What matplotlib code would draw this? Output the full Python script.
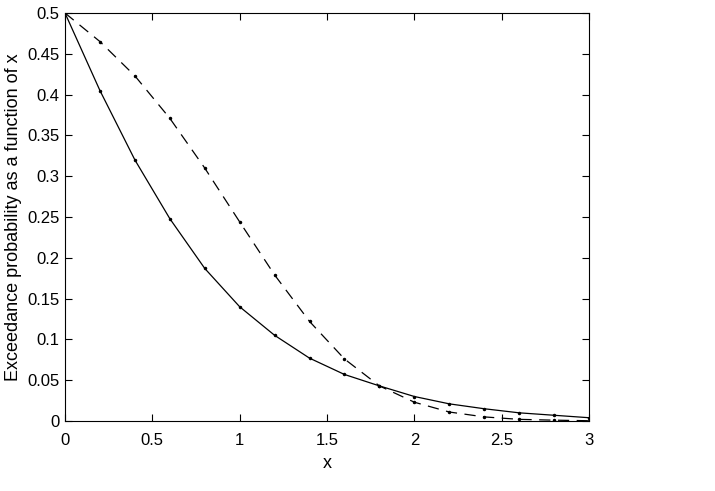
import numpy as np
import matplotlib
matplotlib.use('Agg')
import matplotlib.pyplot as plt

plt.rcParams['font.family'] = ['Liberation Sans', 'DejaVu Sans']

# data
x = [0, 0.2, 0.4, 0.6, 0.8, 1.0, 1.2, 1.4, 1.6, 1.8, 2.0, 2.2, 2.4, 2.6, 2.8, 3.0]
p_solid = [0.5, 0.405, 0.320, 0.248, 0.187, 0.140, 0.105, 0.077, 0.057, 0.043,
           0.030, 0.021, 0.015, 0.010, 0.007, 0.004]
p_dashed = [0.5, 0.465, 0.423, 0.371, 0.310, 0.244, 0.179, 0.122, 0.076, 0.043,
            0.023, 0.011, 0.005, 0.002, 0.001, 0.0003]

fig = plt.figure(figsize=(7.15, 4.91), dpi=100)
ax = fig.add_axes([0.0909, 0.1426, 0.7329, 0.8309])

ax.plot(x, p_solid, 'k-', lw=0.9, marker='.', ms=3)
ax.plot(x, p_dashed, 'k--', lw=0.9, marker='.', ms=3, dashes=(9, 6))

ax.set_xlim(0, 3)
ax.set_ylim(0, 0.5)
ax.set_xticks([0, 0.5, 1, 1.5, 2, 2.5, 3])
ax.set_xticklabels(['0', '0.5', '1', '1.5', '2', '2.5', '3'])
ax.set_yticks(np.arange(0, 0.51, 0.05))
ax.set_yticklabels(['0', '0.05', '0.1', '0.15', '0.2', '0.25', '0.3', '0.35', '0.4', '0.45', '0.5'])
ax.tick_params(direction='in', top=True, right=True, labelsize=12, length=5, width=0.8)
ax.tick_params(axis='x', pad=9)
ax.tick_params(axis='y', pad=4)
ax.set_xlabel('x', fontsize=13, va='center')
ax.set_ylabel('Exceedance probability as a function of x', fontsize=13, va='center')
ax.xaxis.set_label_coords(0.5, -0.103)
ax.yaxis.set_label_coords(-0.099, 0.5)

fig.savefig('out.png', dpi=100)
